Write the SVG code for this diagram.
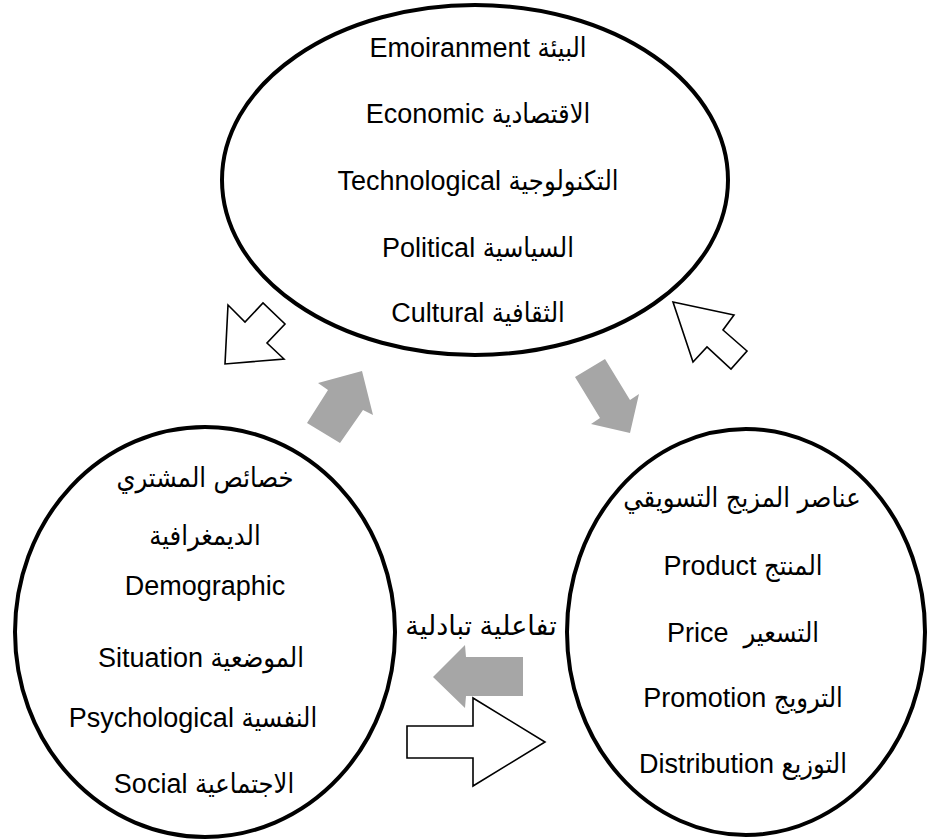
<svg xmlns="http://www.w3.org/2000/svg" width="927" height="839" viewBox="0 0 927 839">
  <style>
    .node ellipse { fill: #ffffff; stroke: #000000; stroke-width: 4; }
    .label { font-family: "Liberation Sans", "DejaVu Sans Condensed", "DejaVu Sans", sans-serif; font-size: 27px; fill: #000000; text-anchor: middle; }
    .wide { font-family: "Liberation Sans", "DejaVu Sans", sans-serif; }
    .solid { fill: #a6a6a6; stroke: none; }
    .hollow { fill: #ffffff; stroke: #000000; stroke-width: 1.6; stroke-linejoin: miter; }
  </style>
  <rect width="927" height="839" fill="#ffffff"/>

  <!-- environment factors -->
  <g id="environment" class="node">
    <ellipse cx="475" cy="180" rx="253" ry="175"/>
    <text class="label" x="478" y="57">Emoiranment البيئة</text>
    <text class="label" x="478" y="123">Economic الاقتصادية</text>
    <text class="label" x="478" y="190">Technological التكنولوجية</text>
    <text class="label" x="478" y="257">Political السياسية</text>
    <text class="label" x="478" y="322">Cultural الثقافية</text>
  </g>

  <!-- buyer characteristics -->
  <g id="buyer" class="node">
    <ellipse cx="205" cy="632" rx="190" ry="205"/>
    <text class="label" x="205" y="487">خصائص المشتري</text>
    <text class="label" x="205" y="545">الديمغرافية</text>
    <text class="label" x="205" y="595">Demographic</text>
    <text class="label" x="201" y="667">Situation الموضعية</text>
    <text class="label" x="193" y="727">Psychological النفسية</text>
    <text class="label" x="204" y="793">Social الاجتماعية</text>
  </g>

  <!-- marketing mix -->
  <g id="marketing-mix" class="node">
    <ellipse cx="746" cy="632" rx="179" ry="203"/>
    <text class="label" x="742" y="507">عناصر المزيج التسويقي</text>
    <text class="label" x="743" y="575">Product المنتج</text>
    <text class="label" x="743" y="642" xml:space="preserve">Price  التسعير</text>
    <text class="label" x="743" y="707">Promotion الترويج</text>
    <text class="label" x="743" y="773">Distribution التوزيع</text>
  </g>

  <!-- connectors: block arrows between the three circles -->
  <g id="connectors">
    <!-- buyer -> environment -->
    <polygon class="solid" points="362,371 373,415 363,410 340,443 307,423 328,390 318,383"/>
    <!-- environment -> marketing mix -->
    <polygon class="solid" points="575,377 605,359 630,400 639,394 630,433 591,424 600,418"/>
    <!-- marketing mix -> environment -->
    <polygon class="hollow" points="673,302 734,315 723,330 747,351 731,369 707,347 693,362"/>
    <!-- environment -> buyer -->
    <polygon class="hollow" points="228,305 245,322 263,303 285,324 267,343 284,359 225,364"/>
    <!-- marketing mix -> buyer -->
    <polygon class="solid" points="433,677 465,645 466,657 523,657 523,696 466,696 465,708"/>
    <!-- buyer -> marketing mix -->
    <polygon class="hollow" points="407,726 473,726 473,698 545,742 473,786 473,758 407,758"/>
    <text id="interaction-label" class="label wide" x="481" y="635">تفاعلية تبادلية</text>
  </g>
</svg>
